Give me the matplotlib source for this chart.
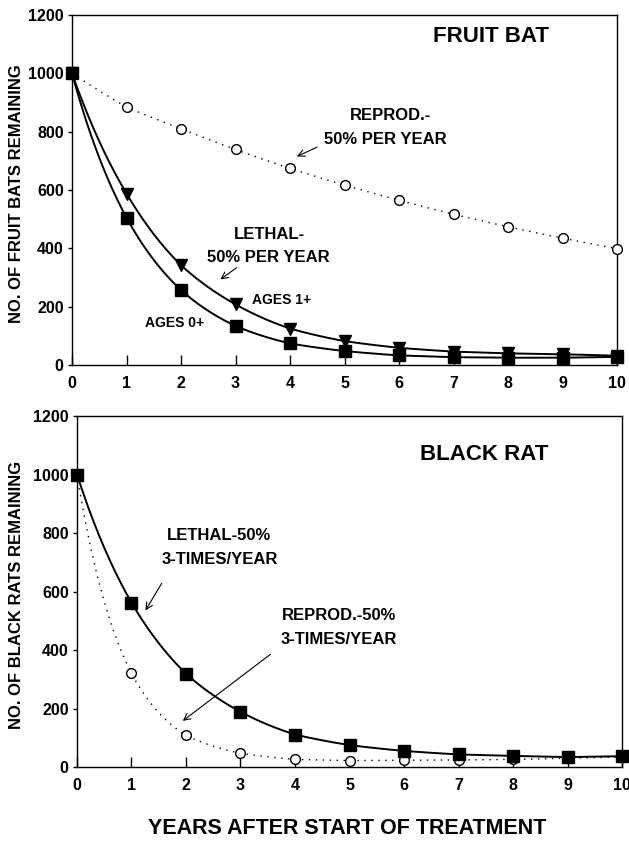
import numpy as np
import matplotlib
matplotlib.use('Agg')
import matplotlib.pyplot as plt

plt.rcParams['font.family'] = ['Liberation Sans', 'DejaVu Sans']
plt.rcParams['font.weight'] = 'bold'

# ── data ──────────────────────────────────────────────────
YEARS = list(range(11))

BAT_REPROD = [1000, 884, 810, 739, 674, 617, 565, 517, 474, 435, 399]
BAT_AGES1 = [1000, 588, 342, 208, 125, 82, 59, 46, 40, 37, 32]
BAT_AGES0 = [1000, 505, 257, 134, 74, 48, 33, 27, 25, 25, 28]

RAT_LETHAL = [1000, 562, 319, 189, 111, 75, 55, 43, 38, 34, 37]
RAT_REPROD = [1000, 320, 108, 47, 26, 22, 23, 24, 26, 30, 34]

Y_TICKS = [0, 200, 400, 600, 800, 1000, 1200]


def smooth(x, y, n=30):
    # geometric path between the read points (decay curves)
    xs, ys = [], []
    for i in range(len(x) - 1):
        t = np.linspace(0, 1, n, endpoint=False)
        xs.append(x[i] + (x[i + 1] - x[i]) * t)
        ys.append(np.exp(np.log(y[i]) + (np.log(y[i + 1]) - np.log(y[i])) * t))
    xs.append([x[-1]])
    ys.append([y[-1]])
    return np.concatenate(xs), np.concatenate(ys)


def style_axes(ax, ylabel, lab_x):
    ax.set_xlim(0, 10)
    ax.set_ylim(0, 1200)
    ax.set_xticks(YEARS)
    ax.set_yticks(Y_TICKS)
    ax.tick_params(axis='x', direction='in', length=7, width=1, pad=8,
                   labelsize=11.5)
    ax.tick_params(axis='y', direction='out', length=3, width=1, pad=3,
                   labelsize=11.5)
    for s in ax.spines.values():
        s.set_linewidth(1.0)
    ax.set_ylabel(ylabel, fontsize=12, fontweight='bold')
    ax.yaxis.set_label_coords(lab_x, 0.49)


def arrow(ax, tail, head):
    ax.annotate('', xy=head, xytext=tail,
                arrowprops=dict(arrowstyle='->', color='black', lw=0.8,
                                mutation_scale=12))


fig = plt.figure(figsize=(6.29, 8.44), dpi=100)
fig.patch.set_facecolor('white')

# ── fruit bat ─────────────────────────────────────────────
ax1 = fig.add_axes([0.1145, 0.5675, 0.8665, 0.4147])
sx, sy = smooth(YEARS, BAT_REPROD)
ax1.plot(sx, sy, color='black', lw=1.0, ls=(0, (1, 4)))
ax1.plot(YEARS, BAT_REPROD, 'o', ms=7, mfc='white', mec='black', mew=1.0,
         clip_on=False, zorder=4)
sx, sy = smooth(YEARS, BAT_AGES1)
ax1.plot(sx, sy, color='black', lw=1.4)
ax1.plot(YEARS, BAT_AGES1, 'v', ms=8, color='black', clip_on=False, zorder=4)
sx, sy = smooth(YEARS, BAT_AGES0)
ax1.plot(sx, sy, color='black', lw=1.4)
ax1.plot(YEARS, BAT_AGES0, 's', ms=8, color='black', clip_on=False, zorder=5)

ax1.text(7.68, 1126, 'FRUIT BAT', ha='center', va='center', fontsize=16,
         fontweight='bold')
ax1.text(5.85, 854, 'REPROD.-', ha='center', va='center', fontsize=12,
         fontweight='bold')
ax1.text(5.75, 774, '50% PER YEAR', ha='center', va='center', fontsize=12,
         fontweight='bold')
arrow(ax1, (4.54, 751), (4.08, 711))
ax1.text(3.62, 448, 'LETHAL-', ha='center', va='center', fontsize=12,
         fontweight='bold')
ax1.text(3.6, 368, '50% PER YEAR', ha='center', va='center', fontsize=12,
         fontweight='bold')
arrow(ax1, (3.06, 339), (2.68, 288))
ax1.text(3.84, 224, 'AGES 1+', ha='center', va='center', fontsize=10,
         fontweight='bold')
ax1.text(1.89, 145, 'AGES 0+', ha='center', va='center', fontsize=10,
         fontweight='bold')
style_axes(ax1, 'NO. OF FRUIT BATS REMAINING', -0.088)

# ── black rat ─────────────────────────────────────────────
ax2 = fig.add_axes([0.1224, 0.0912, 0.8665, 0.4159])
sx, sy = smooth(YEARS, RAT_REPROD)
ax2.plot(sx, sy, color='black', lw=1.0, ls=(0, (1, 4)))
ax2.plot(YEARS, RAT_REPROD, 'o', ms=7, mfc='white', mec='black', mew=1.0,
         clip_on=False, zorder=4)
sx, sy = smooth(YEARS, RAT_LETHAL)
ax2.plot(sx, sy, color='black', lw=1.4)
ax2.plot(YEARS, RAT_LETHAL, 's', ms=8, color='black', clip_on=False, zorder=5)

ax2.text(7.47, 1070, 'BLACK RAT', ha='center', va='center', fontsize=16,
         fontweight='bold')
ax2.text(2.6, 790, 'LETHAL-50%', ha='center', va='center', fontsize=12,
         fontweight='bold')
ax2.text(2.62, 710, '3-TIMES/YEAR', ha='center', va='center', fontsize=12,
         fontweight='bold')
arrow(ax2, (1.58, 636), (1.23, 527))
ax2.text(4.8, 517, 'REPROD.-50%', ha='center', va='center', fontsize=12,
         fontweight='bold')
ax2.text(4.8, 437, '3-TIMES/YEAR', ha='center', va='center', fontsize=12,
         fontweight='bold')
arrow(ax2, (3.59, 391), (1.9, 152))
style_axes(ax2, 'NO. OF BLACK RATS REMAINING', -0.097)

fig.text(347 / 629, 1 - 828 / 844, 'YEARS AFTER START OF TREATMENT',
         ha='center', va='center', fontsize=15.5, fontweight='bold')

fig.savefig('out.png', dpi=100)
plt.close(fig)
